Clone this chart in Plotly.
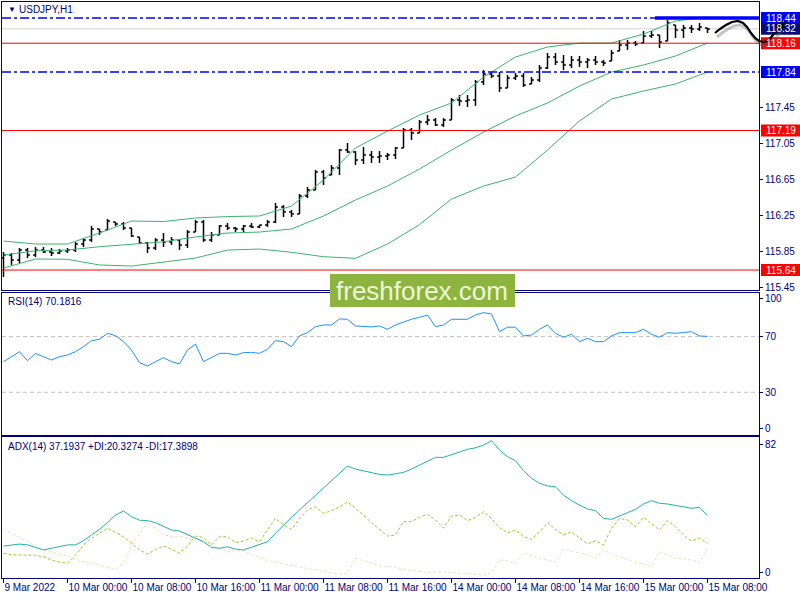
import plotly.graph_objects as go

# ---------------- data ----------------
time_labels = ["9 Mar 2022", "10 Mar 00:00", "10 Mar 08:00", "10 Mar 16:00", "11 Mar 00:00",
               "11 Mar 08:00", "11 Mar 16:00", "14 Mar 00:00", "14 Mar 08:00", "14 Mar 16:00",
               "15 Mar 00:00", "15 Mar 08:00"]
label_idx = [0, 8, 16, 24, 32, 40, 48, 56, 64, 72, 80, 88]

opens = [115.773,115.807,115.751,115.862,115.807,115.862,115.840,115.829,115.851,115.862,
         115.929,115.973,116.096,116.084,116.173,116.151,116.107,116.007,115.940,115.884,
         115.973,115.951,115.973,115.918,116.062,116.173,115.973,116.029,116.129,116.107,
         116.096,116.129,116.118,116.140,116.173,116.340,116.284,116.262,116.462,116.529,
         116.729,116.696,116.773,116.973,116.951,116.862,116.918,116.896,116.907,116.918,
         116.996,117.196,117.162,117.284,117.307,117.251,117.307,117.529,117.518,117.529,
         117.729,117.818,117.796,117.662,117.773,117.796,117.707,117.751,117.884,118.007,
         117.951,117.918,117.973,117.951,117.973,117.951,117.962,118.073,118.140,118.162,
         118.162,118.240,118.251,118.184,118.362,118.307,118.329,118.318,118.329]
highs = [115.840,115.829,115.884,115.884,115.896,115.896,115.884,115.873,115.884,115.951,
         115.996,116.129,116.096,116.207,116.173,116.173,116.107,116.007,115.951,115.996,
         116.051,116.007,115.984,116.084,116.196,116.196,116.062,116.140,116.162,116.118,
         116.140,116.162,116.140,116.196,116.384,116.362,116.307,116.484,116.562,116.751,
         116.751,116.807,116.984,117.051,116.962,117.007,116.962,116.962,116.940,117.007,
         117.218,117.218,117.307,117.362,117.329,117.329,117.551,117.584,117.584,117.751,
         117.862,117.840,117.840,117.807,117.829,117.829,117.784,117.918,118.051,118.051,
         118.029,118.018,118.018,117.996,118.018,117.973,118.084,118.196,118.196,118.184,
         118.296,118.296,118.251,118.418,118.362,118.362,118.362,118.384,118.329]
lows = [115.562,115.696,115.718,115.773,115.784,115.829,115.796,115.818,115.829,115.840,
        115.896,115.951,116.029,116.084,116.129,116.084,116.007,115.929,115.829,115.862,
        115.896,115.918,115.862,115.884,116.062,115.951,115.951,116.029,116.084,116.062,
        116.062,116.107,116.107,116.118,116.162,116.229,116.229,116.262,116.440,116.529,
        116.584,116.696,116.696,116.940,116.807,116.818,116.829,116.829,116.862,116.873,
        116.996,117.084,117.162,117.251,117.240,117.229,117.307,117.462,117.451,117.462,
        117.696,117.773,117.618,117.662,117.751,117.673,117.707,117.729,117.873,117.918,
        117.862,117.884,117.896,117.884,117.918,117.907,117.962,118.073,118.084,118.129,
        118.162,118.218,118.107,118.184,118.218,118.218,118.273,118.296,118.273]
closes = [115.807,115.751,115.862,115.807,115.862,115.840,115.829,115.851,115.862,115.929,
          115.973,116.096,116.062,116.184,116.151,116.107,116.018,115.940,115.884,115.973,
          115.951,115.973,115.918,116.062,116.173,115.973,116.029,116.129,116.107,116.096,
          116.129,116.118,116.140,116.173,116.340,116.284,116.262,116.462,116.529,116.729,
          116.662,116.773,116.973,116.951,116.862,116.918,116.896,116.907,116.918,116.996,
          117.196,117.162,117.284,117.307,117.251,117.307,117.529,117.518,117.529,117.729,
          117.818,117.796,117.662,117.773,117.796,117.696,117.751,117.884,118.007,117.951,
          117.918,117.973,117.951,117.973,117.951,117.940,118.051,118.140,118.162,118.151,
          118.240,118.251,118.173,118.384,118.307,118.329,118.318,118.340,118.318]

band_idx = [0, 4, 8, 12, 16, 20, 24, 28, 32, 36, 40, 44, 48, 52, 56, 60, 64, 68, 72, 76, 80, 84, 88]
bb_upper = [115.962,115.929,115.929,116.051,116.184,116.179,116.218,116.234,116.240,116.351,116.640,116.996,
            117.184,117.362,117.496,117.784,118.007,118.118,118.162,118.162,118.262,118.407,118.451]
bb_mid = [115.807,115.854,115.862,115.899,115.926,115.954,116.007,116.051,116.062,116.096,116.240,116.418,
          116.573,116.762,116.973,117.173,117.351,117.496,117.684,117.840,117.918,118.018,118.162]
bb_lower = [115.662,115.762,115.759,115.696,115.684,115.729,115.773,115.862,115.873,115.837,115.788,115.770,
            115.929,116.144,116.429,116.573,116.673,116.973,117.296,117.540,117.629,117.707,117.840]

rsi = [52.0,55.6,59.2,52.7,58.0,55.6,53.2,55.6,56.8,59.2,
       62.8,67.1,68.1,72.4,70.7,66.4,60.4,51.3,48.9,52.0,
       54.9,52.0,50.4,60.4,64.7,52.0,54.9,58.0,58.0,56.8,
       58.5,58.7,58.0,60.9,67.1,66.4,62.8,70.5,72.9,77.2,
       78.4,78.4,82.7,82.5,77.7,77.2,77.0,77.7,75.3,78.4,
       80.4,82.5,83.9,85.6,77.2,78.4,82.5,82.5,82.5,85.6,
       87.3,86.3,73.6,76.8,76.8,70.5,71.2,75.3,78.4,72.4,
       69.6,71.7,66.4,68.8,66.4,66.4,70.5,72.9,72.9,72.9,
       75.3,71.7,69.6,72.9,72.4,72.9,73.6,70.5,70.1816]
adx = [18.8,19.5,20.0,19.5,18.0,16.5,17.5,18.4,19.5,19.5,
       22.0,25.5,28.8,32.8,37.4,39.8,36.4,34.3,34.0,32.8,
       30.8,28.4,27.8,25.5,23.5,21.4,18.0,17.5,18.4,17.0,
       16.5,18.0,19.5,21.4,26.5,31.4,36.0,40.4,44.8,49.3,
       53.4,57.9,62.7,66.7,64.9,63.9,62.9,61.7,61.3,62.1,
       62.9,64.9,67.1,69.7,71.9,71.9,73.3,75.1,76.7,77.6,
       79.2,81.9,76.3,72.3,69.9,63.9,59.4,56.4,54.8,54.3,
       49.3,46.0,43.3,41.0,40.0,35.4,34.8,37.0,38.8,40.8,
       44.0,46.0,44.4,44.0,43.3,42.3,41.4,42.0,37.1937]
plus_di = [14.5,13.6,13.5,13.5,13.3,12.4,10.5,9.2,8.5,13.5,
           19.5,23.5,26.5,29.5,27.0,24.4,20.5,16.5,14.0,16.8,
           18.8,17.0,14.5,18.8,24.8,24.0,19.5,24.4,24.4,20.9,
           21.8,23.5,21.4,28.4,35.4,31.4,28.8,35.4,40.4,42.3,
           38.4,40.0,42.3,45.3,41.4,37.4,32.8,28.8,24.8,25.5,
           33.4,33.4,36.0,37.8,34.4,29.5,36.8,37.4,34.0,36.0,
           39.4,35.4,29.8,26.8,28.4,24.4,22.8,27.4,32.8,28.8,
           25.5,27.4,23.8,20.0,22.0,19.5,29.5,35.4,34.4,30.4,
           36.0,32.4,28.4,34.0,30.4,25.5,21.8,23.5,20.3274]
minus_di = [28.8,26.2,23.8,21.4,18.8,17.0,15.2,14.0,12.9,11.0,
            9.4,8.5,7.5,6.1,4.9,8.5,19.5,26.0,33.4,29.2,
            25.8,24.4,24.4,23.5,22.8,21.8,20.0,17.5,15.4,16.0,
            15.9,14.0,12.1,10.1,9.1,8.1,6.9,5.9,5.3,4.5,
            3.9,2.9,2.1,2.5,11.5,10.1,8.9,7.1,6.4,6.1,
            4.7,4.1,3.5,3.1,3.1,3.5,2.9,2.5,2.1,1.9,
            1.5,2.5,10.5,10.1,8.5,14.8,13.0,11.3,10.5,9.5,
            17.1,16.0,14.8,13.5,11.5,16.5,14.1,12.4,10.5,9.1,
            8.1,6.5,15.4,13.5,11.5,11.1,10.5,8.9,17.3898]

red_levels = [118.16, 117.19, 115.64]
blue_levels = [118.44, 117.84]
bid_level = 118.32
price_ticks = [117.45, 117.05, 116.65, 116.25, 115.85, 115.45]

# ---------------- styling helpers ----------------
NAVY = "#000080"
FONT = "Liberation Sans, Arial, sans-serif"
L, T, W, H = 2, 2, 757, 576   # plot area in pixels
PRICE_TOP, PX_PER_UNIT = 118.64, 90.0   # used only for label box heights


def px_x(px):
    return (px - L) / W


def px_y(py):
    return (T + H - py) / H


idx = list(range(len(closes)))
hi = [max(h, o, c) for h, o, c in zip(highs, opens, closes)]
lo = [min(l, o, c) for l, o, c in zip(lows, opens, closes)]

fig = go.Figure()
fig.add_trace(go.Ohlc(x=idx, open=opens, high=hi, low=lo, close=closes,
                      increasing_line_color="black", decreasing_line_color="black",
                      line_width=1.5, tickwidth=0.3, xaxis="x", yaxis="y",
                      hoverinfo="skip", showlegend=False))
for band in (bb_upper, bb_mid, bb_lower):
    fig.add_trace(go.Scatter(x=band_idx, y=band, mode="lines",
                             line=dict(color="#3CB371", width=1),
                             xaxis="x", yaxis="y", hoverinfo="skip", showlegend=False))

fig.add_trace(go.Scatter(x=idx, y=rsi, mode="lines", line=dict(color="#1E90FF", width=1),
                         xaxis="x2", yaxis="y2", hoverinfo="skip", showlegend=False))

fig.add_trace(go.Scatter(x=idx, y=minus_di, mode="lines",
                         line=dict(color="#F5DEB3", width=1, dash="3px,2px"),
                         xaxis="x3", yaxis="y3", hoverinfo="skip", showlegend=False))
fig.add_trace(go.Scatter(x=idx, y=plus_di, mode="lines",
                         line=dict(color="#9ACD32", width=1, dash="3px,2px"),
                         xaxis="x3", yaxis="y3", hoverinfo="skip", showlegend=False))
fig.add_trace(go.Scatter(x=idx, y=adx, mode="lines", line=dict(color="#20B2AA", width=1),
                         xaxis="x3", yaxis="y3", hoverinfo="skip", showlegend=False))

xrange_ = [-0.1875, 94.4375]
common_x = dict(range=xrange_, showgrid=False, zeroline=False, showline=True, mirror=True,
                linecolor=NAVY, linewidth=1, fixedrange=True)
common_y = dict(showgrid=False, zeroline=False, showline=True, mirror=True, linecolor=NAVY,
                linewidth=1, side="right", ticks="outside", ticklen=3, tickcolor=NAVY,
                tickfont=dict(family=FONT, size=10, color=NAVY), fixedrange=True)

shapes = []
# horizontal levels in main panel
for lv in red_levels:
    shapes.append(dict(type="line", xref="paper", x0=0, x1=1, yref="y", y0=lv, y1=lv,
                       line=dict(color="#FF0000", width=1)))
for lv in blue_levels:
    shapes.append(dict(type="line", xref="paper", x0=0, x1=1, yref="y", y0=lv, y1=lv,
                       line=dict(color="#0000FF", width=1.3, dash="dashdot")))
shapes.append(dict(type="line", xref="paper", x0=0, x1=1, yref="y", y0=bid_level, y1=bid_level,
                   line=dict(color="#D3D3D3", width=1), layer="below"))
shapes.append(dict(type="line", xref="paper", x0=px_x(655), x1=1, yref="y",
                   y0=blue_levels[0], y1=blue_levels[0], line=dict(color="#0000FF", width=3.5)))
# RSI levels
for lv in (70, 30):
    shapes.append(dict(type="line", xref="paper", x0=0, x1=1, yref="y2", y0=lv, y1=lv,
                       line=dict(color="#C0C0C0", width=1, dash="4px,3px"), layer="below"))
# watermark
shapes.append(dict(type="rect", xref="paper", yref="paper", x0=px_x(330), x1=px_x(515),
                   y0=px_y(307), y1=px_y(274), fillcolor="#8DB43E", line=dict(width=0),
                   layer="above"))

# price level label boxes (drawn as shapes so that the arrow can cover them)
lab_specs = [(118.44, "#0000FF"), (bid_level, "#0A0A78"), (118.16, "#FF0000"),
             (117.84, "#0000FF"), (117.19, "#FF0000"), (115.64, "#FF0000")]
half_h = 6.0 / PX_PER_UNIT
for lv, col in lab_specs:
    shapes.append(dict(type="rect", xref="paper", x0=px_x(761), x1=px_x(800), yref="y",
                       y0=lv - half_h, y1=lv + half_h, fillcolor=col, line=dict(width=0),
                       layer="above"))


def path_from(points):
    s = ""
    for k, (a, b) in enumerate(points):
        s += ("M" if k == 0 else "L") + f"{px_x(a):.5f},{px_y(b):.5f} "
    return s


annotations = []
for lv, col in lab_specs:
    annotations.append(dict(xref="paper", x=px_x(780.5), xanchor="center", yref="y", y=lv,
                            yanchor="middle", text=f"{lv:.2f}", showarrow=False,
                            font=dict(family=FONT, size=10, color="white")))

# hand drawn forecast arrow (on top of label boxes)
curve = [(715, 33), (720, 29), (726, 25), (732, 22), (738, 21), (743, 23), (747, 27), (751, 33),
         (755, 38), (759, 41), (764, 42), (769, 40), (773, 35), (777, 30), (780, 27)]
shadow = [(a + 2, b + 4) for a, b in curve]
shapes.append(dict(type="path", xref="paper", yref="paper", path=path_from(shadow),
                   line=dict(color="rgba(90,90,90,0.35)", width=3), layer="above"))
shapes.append(dict(type="path", xref="paper", yref="paper", path=path_from(curve),
                   line=dict(color="black", width=2.2), layer="above"))
head = [(785, 21), (775, 25), (781, 32)]
shapes.append(dict(type="path", xref="paper", yref="paper", path=path_from(head) + "Z",
                   fillcolor="black", line=dict(color="black", width=1), layer="above"))

# panel titles
annotations.append(dict(xref="paper", yref="paper", x=px_x(6), y=px_y(10), xanchor="left",
                        yanchor="middle", text="▼", showarrow=False,
                        font=dict(family=FONT, size=8, color=NAVY)))
annotations.append(dict(xref="paper", yref="paper", x=px_x(17), y=px_y(10), xanchor="left",
                        yanchor="middle", text="USDJPY,H1", showarrow=False,
                        font=dict(family=FONT, size=10, color=NAVY)))
annotations.append(dict(xref="paper", yref="paper", x=px_x(6), y=px_y(302), xanchor="left",
                        yanchor="middle", text="RSI(14) 70.1816", showarrow=False,
                        font=dict(family=FONT, size=10, color=NAVY)))
annotations.append(dict(xref="paper", yref="paper", x=px_x(6), y=px_y(446), xanchor="left",
                        yanchor="middle",
                        text="ADX(14) 37.1937 +DI:20.3274 -DI:17.3898",
                        showarrow=False, font=dict(family=FONT, size=10, color=NAVY)))
annotations.append(dict(xref="paper", yref="paper", x=px_x(422), y=px_y(291), xanchor="center",
                        yanchor="middle", text="freshforex.com", showarrow=False,
                        font=dict(family=FONT, size=26, color="#EEF6D8")))

fig.update_layout(
    width=800, height=600,
    margin=dict(l=L, r=800 - L - W, t=T, b=600 - T - H, autoexpand=False),
    paper_bgcolor="white", plot_bgcolor="white",
    showlegend=False, hovermode=False,
    xaxis=dict(common_x, anchor="y", showticklabels=False, ticks="", rangeslider=dict(visible=False)),
    xaxis2=dict(common_x, anchor="y2", matches="x", showticklabels=False, ticks=""),
    xaxis3=dict(common_x, anchor="y3", matches="x", tickvals=label_idx, ticktext=time_labels,
                ticks="outside", ticklen=4, tickcolor=NAVY, ticklabelposition="outside right",
                tickangle=0, tickfont=dict(family=FONT, size=10, color=NAVY)),
    yaxis=dict(common_y, anchor="x", domain=[0.5, 1.0], range=[115.418, 118.618],
               tickvals=price_ticks, ticktext=[f"{v:.2f}" for v in price_ticks]),
    yaxis2=dict(common_y, anchor="x2", domain=[0.2483, 0.4948], range=[-0.72, 101.4],
                tickvals=[97.1, 70, 30, 4.1], ticktext=["100", "70", "30", "0"]),
    yaxis3=dict(common_y, anchor="x3", domain=[0.0, 0.2448], range=[-0.3, 84.08],
                tickvals=[79.7, 2.9], ticktext=["82", "0"]),
    shapes=shapes,
    annotations=annotations,
)

fig.write_html("out.html", config={"displayModeBar": False},
               post_script="document.body.style.margin='0';document.body.style.overflow='hidden';")
